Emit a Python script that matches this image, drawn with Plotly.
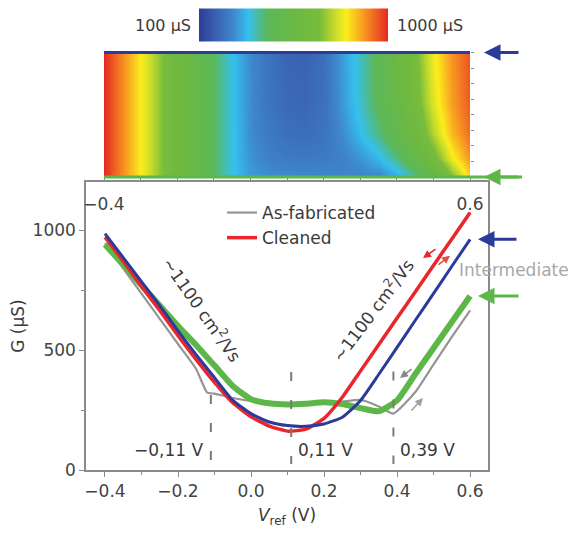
import plotly.graph_objects as go

# ---------------- data ----------------
v_main = [-0.4, -0.35, -0.3, -0.25, -0.2, -0.15, -0.1, -0.05, 0.0, 0.05, 0.1,
          0.15, 0.2, 0.25, 0.3, 0.35, 0.4, 0.45, 0.5, 0.55, 0.6]
g_cleaned = [970, 870, 765, 665, 560, 460, 365, 280, 222, 183, 162,
             170, 215, 303, 413, 523, 633, 743, 853, 963, 1073]
g_blue = [985, 885, 785, 685, 580, 480, 385, 290, 235, 200, 185,
          182, 192, 220, 290, 399, 511, 624, 736, 849, 961]
g_green = [940, 855, 770, 685, 600, 520, 435, 350, 295, 278, 273,
           276, 282, 275, 258, 245, 290, 400, 508, 617, 725]
v_gray = [-0.4, -0.35, -0.3, -0.25, -0.2, -0.15, -0.12, -0.1, -0.05, 0.0, 0.05,
          0.1, 0.15, 0.2, 0.25, 0.3, 0.35, 0.39, 0.45, 0.5, 0.55, 0.6]
g_asfab = [945, 840, 735, 630, 525, 420, 322, 318, 300, 288, 280,
           276, 275, 278, 285, 292, 265, 235, 325, 440, 555, 665]

dirac_points = [-0.11, 0.11, 0.39]
dirac_labels = ["\u22120,11 V", "0,11 V", "0,39 V"]

heat_v = [-0.4, -0.35, -0.3, -0.25, -0.2, -0.15, -0.1, -0.05, 0.0, 0.05, 0.1,
          0.15, 0.2, 0.25, 0.3, 0.35, 0.4, 0.45, 0.5, 0.55, 0.6]
heat_rows = [0.0, 0.15, 0.35, 0.6, 1.0]
heat_row0 = [1000, 900, 800, 700, 600, 515, 420, 340, 290, 275, 270, 268, 268, 262, 255, 255, 300, 380, 500, 670, 830]
heat_row1 = [1000, 900, 800, 700, 600, 515, 420, 340, 280, 250, 238, 235, 238, 250, 280, 325, 400, 500, 640, 790, 890]
heat_row2 = [1000, 900, 800, 700, 600, 515, 420, 340, 272, 232, 212, 208, 222, 268, 330, 400, 490, 595, 730, 855, 930]
heat_row3 = [1000, 900, 800, 700, 600, 515, 420, 340, 270, 222, 198, 192, 215, 285, 355, 440, 540, 640, 770, 880, 950]
heat_row4 = [1000, 900, 800, 700, 600, 515, 420, 340, 268, 218, 188, 182, 212, 290, 360, 450, 560, 660, 790, 890, 960]

heat_ticks = [-0.4, -0.3, -0.2, -0.1, 0.0, 0.1, 0.2, 0.3, 0.4, 0.5, 0.6]
heat_ticktext = ["\u22120.4", "", "", "", "", "", "", "", "", "", "0.6"]

# ---------------- styles ----------------
FONT = "DejaVu Sans"
RED = "#e8262b"
BLUE = "#2b3b9b"
GREEN = "#5db748"
GRAY = "#959595"
AX = "#8a8a8a"
TXT = "#3a3a3a"

W, H = 569, 534
def px(x):
    return x / W
def py(y):
    return (H - y) / H

colorscale = [
    [0.0, "#2c3b96"], [0.09, "#3a62b2"], [0.18, "#3e86cc"], [0.26, "#35c0ee"],
    [0.36, "#5cb85a"], [0.5, "#6ab844"], [0.64, "#78bc3c"], [0.72, "#c8dc2a"],
    [0.78, "#fbee1c"], [0.87, "#f89a22"], [1.0, "#e42a22"],
]

fig = go.Figure()

fig.add_trace(go.Heatmap(
    x=heat_v, y=heat_rows,
    z=[heat_row0, heat_row1, heat_row2, heat_row3, heat_row4],
    zmin=100, zmax=1000, colorscale=colorscale, zsmooth="best",
    xaxis="x2", yaxis="y2", hoverinfo="skip",
    colorbar=dict(orientation="h", x=px(293.5), xanchor="center",
                  y=py(25.5), yanchor="middle", len=189, lenmode="pixels",
                  thickness=33, showticklabels=False, ticks="",
                  outlinewidth=0, xpad=0, ypad=0),
))

fig.add_trace(go.Scatter(x=v_gray, y=g_asfab, mode="lines", name="As-fabricated",
                         line=dict(color=GRAY, width=2.2, shape="spline", smoothing=0.5)))
fig.add_trace(go.Scatter(x=v_main, y=g_green, mode="lines", name="Intermediate (green)",
                         showlegend=False,
                         line=dict(color=GREEN, width=6, shape="spline", smoothing=0.5)))
fig.add_trace(go.Scatter(x=v_main, y=g_cleaned, mode="lines", name="Cleaned",
                         line=dict(color=RED, width=3.5, shape="spline", smoothing=0.5)))
fig.add_trace(go.Scatter(x=v_main, y=g_blue, mode="lines", name="Intermediate (blue)",
                         showlegend=False,
                         line=dict(color=BLUE, width=3, shape="spline", smoothing=0.5)))

shapes = []
dash_tops = [312, 408, 410]
for v, top in zip(dirac_points, dash_tops):
    shapes.append(dict(type="line", xref="x", yref="y", x0=v, x1=v, y0=top, y1=25,
                       line=dict(color="#7a7a7a", width=2, dash="9px,19px")))
shapes.append(dict(type="line", xref="paper", yref="paper", x0=px(104), x1=px(470),
                   y0=py(52.5), y1=py(52.5), line=dict(color=BLUE, width=3)))
shapes.append(dict(type="line", xref="paper", yref="paper", x0=px(104), x1=px(522),
                   y0=py(177), y1=py(177), line=dict(color=GREEN, width=3)))

annotations = []
anchors = ["right", "left", "left"]
shifts = [-5, 5, 5]
for v, lab, a, s in zip(dirac_points, dirac_labels, anchors, shifts):
    annotations.append(dict(x=v, y=83, xref="x", yref="y", text=lab, showarrow=False,
                            xanchor=a, xshift=s, yanchor="middle",
                            font=dict(family=FONT, size=17, color=TXT)))
annotations.append(dict(x=-0.134, y=670, xref="x", yref="y",
                        text="~1100 cm<sup>2</sup>/Vs", showarrow=False, textangle=55,
                        font=dict(family=FONT, size=17, color=TXT)))
annotations.append(dict(x=0.332, y=667, xref="x", yref="y",
                        text="~1100 cm<sup>2</sup>/Vs", showarrow=False, textangle=-53,
                        font=dict(family=FONT, size=17, color=TXT)))
annotations.append(dict(x=px(193), y=py(25), xref="paper", yref="paper", text="100 \u00b5S",
                        showarrow=False, xanchor="right", yanchor="middle",
                        font=dict(family=FONT, size=16, color=TXT)))
annotations.append(dict(x=px(395), y=py(25), xref="paper", yref="paper", text="1000 \u00b5S",
                        showarrow=False, xanchor="left", yanchor="middle",
                        font=dict(family=FONT, size=16, color=TXT)))
annotations.append(dict(x=px(457), y=py(270), xref="paper", yref="paper", text="Intermediate",
                        showarrow=False, xanchor="left", yanchor="middle",
                        font=dict(family=FONT, size=17, color="#a8a8a8")))
for (ypix, col) in [(52.5, BLUE), (177, GREEN)]:
    annotations.append(dict(x=px(484), y=py(ypix), xref="paper", yref="paper", text="",
                            showarrow=True, ax=36, ay=0, arrowhead=2, arrowsize=1.1,
                            arrowwidth=3, arrowcolor=col))
annotations.append(dict(x=px(478), y=g_blue[-1], xref="paper", yref="y", text="",
                        showarrow=True, ax=40, ay=0, arrowhead=2, arrowsize=1.1,
                        arrowwidth=3, arrowcolor=BLUE))
annotations.append(dict(x=px(478), y=g_green[-1], xref="paper", yref="y", text="",
                        showarrow=True, ax=42, ay=0, arrowhead=2, arrowsize=1.1,
                        arrowwidth=3, arrowcolor=GREEN))
for (x, y, ax, ay, col) in [(0.471, 883, 14, -10, RED), (0.545, 893, -13, 10, "#e0503a"),
                            (0.408, 383, 13, -10, "#888888"), (0.471, 300, -13, 14, "#a0a0a0")]:
    annotations.append(dict(x=x, y=y, xref="x", yref="y", text="", showarrow=True,
                            ax=ax, ay=ay, arrowhead=2, arrowsize=1, arrowwidth=1.6,
                            arrowcolor=col))

fig.update_layout(
    width=W, height=H, margin=dict(l=0, r=0, t=0, b=0, autoexpand=False),
    paper_bgcolor="white", plot_bgcolor="white",
    font=dict(family=FONT, size=17, color=TXT),
    showlegend=True,
    legend=dict(x=px(222), y=py(195), xanchor="left", yanchor="top",
                bgcolor="rgba(0,0,0,0)", font=dict(family=FONT, size=17, color=TXT),
                itemwidth=30, tracegroupgap=0),
    xaxis=dict(domain=[px(86), px(488)], range=[-0.452, 0.649], anchor="y",
               automargin=False,
               showline=True, linecolor=AX, linewidth=1.5, mirror=True,
               ticks="outside", ticklen=5, tickcolor=AX, tickwidth=1.2,
               tick0=0, dtick=0.2, tickformat=".1f",
               minor=dict(dtick=0.1, ticks="outside", ticklen=3, tickcolor=AX),
               showgrid=False, zeroline=False,
               tickfont=dict(family=FONT, size=17, color="#444"),
               title=dict(text="<i>V</i><sub>ref</sub> (V)", standoff=9,
                          font=dict(family=FONT, size=17, color=TXT))),
    yaxis=dict(domain=[py(470), py(182)], range=[0, 1200], anchor="x",
               automargin=False,
               showline=True, linecolor=AX, linewidth=1.5, mirror=True,
               ticks="outside", ticklen=5, tickcolor=AX, tickwidth=1.2,
               tick0=0, dtick=500,
               minor=dict(dtick=250, ticks="outside", ticklen=3, tickcolor=AX),
               showgrid=False, zeroline=False,
               tickfont=dict(family=FONT, size=17, color="#444"),
               title=dict(text="G (\u00b5S)", standoff=4,
                          font=dict(family=FONT, size=17, color=TXT))),
    xaxis2=dict(domain=[px(104), px(470)], range=[-0.4, 0.6], anchor="y2",
                automargin=False,
                showline=False, ticks="outside", ticklen=4, tickcolor=AX,
                tickvals=heat_ticks, ticktext=heat_ticktext, ticklabelstandoff=8,
                showgrid=False, zeroline=False,
                tickfont=dict(family=FONT, size=17, color="#444")),
    yaxis2=dict(domain=[py(177), py(52.5)], range=[0, 1], anchor="x2", side="right",
                automargin=False,
                showline=False, ticks="outside", ticklen=3, tickcolor=AX,
                tick0=0, dtick=0.125, showticklabels=False,
                showgrid=False, zeroline=False),
    shapes=shapes, annotations=annotations,
)

fig.write_html("out.html", config={"displayModeBar": False},
               post_script="document.body.style.margin='0px';")
